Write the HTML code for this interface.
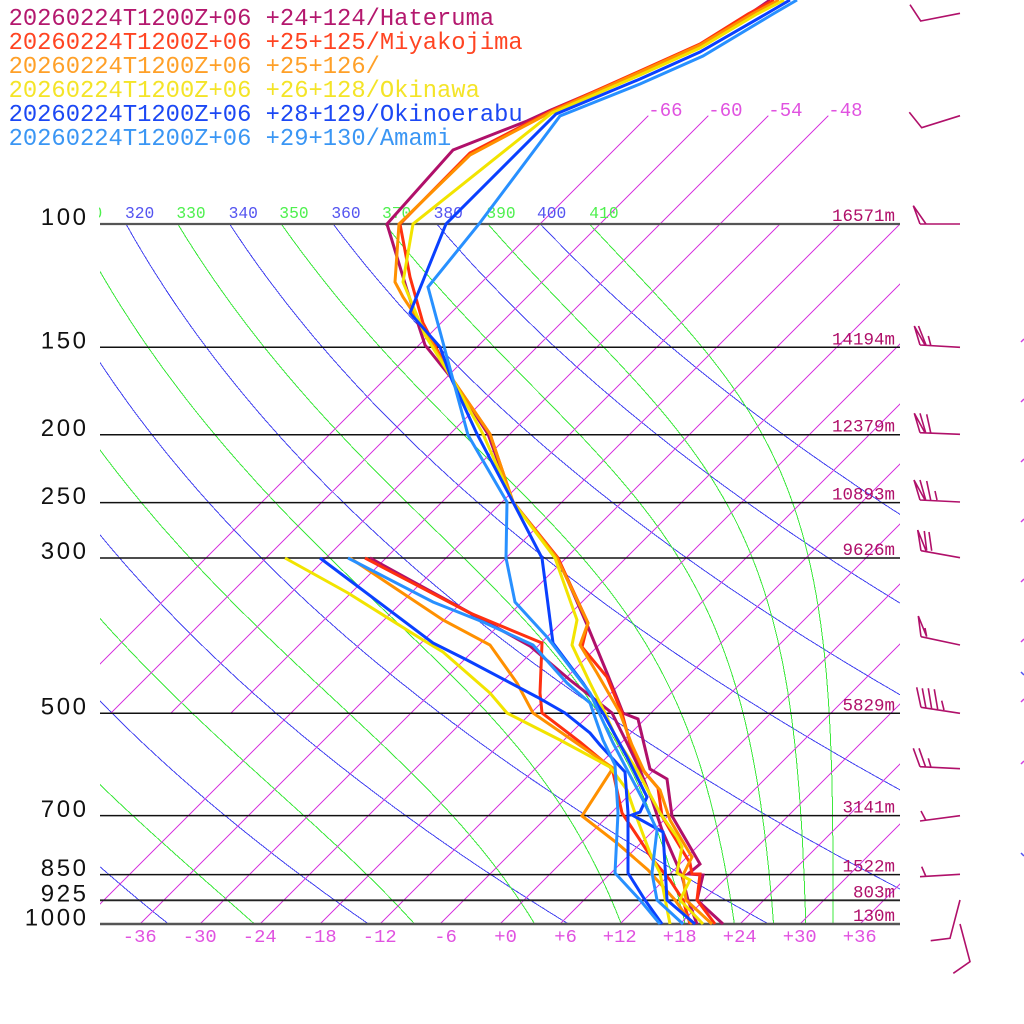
<!DOCTYPE html>
<html>
<head>
<meta charset="utf-8">
<style>
html,body{margin:0;padding:0;background:#fff;}
svg{display:block;}
.mono{font-family:"Liberation Mono","DejaVu Sans Mono",monospace;}
.sans{font-family:"Liberation Sans","DejaVu Sans",sans-serif;}
</style>
</head>
<body>
<svg id="s" xmlns="http://www.w3.org/2000/svg" width="1024" height="1024" viewBox="0 0 1024 1024">
<defs>
<clipPath id="pc"><rect x="100" y="224" width="800" height="700"/></clipPath>
<clipPath id="pc2"><rect x="100" y="0" width="800" height="924"/></clipPath>
<clipPath id="lc"><rect x="99" y="180" width="820" height="50"/></clipPath>
</defs>
<rect width="1024" height="1024" fill="#fff"/>
<g id="grid" clip-path="url(#pc)" shape-rendering="crispEdges"></g>
<g id="grid2" clip-path="url(#pc2)" shape-rendering="crispEdges"></g>

<!-- isobars -->
<g fill="none">
<line x1="100" y1="224" x2="900" y2="224" stroke="#555" stroke-width="2.2"/>
<line x1="100" y1="347.3" x2="900" y2="347.3" stroke="#111" stroke-width="1.5"/>
<line x1="100" y1="434.7" x2="900" y2="434.7" stroke="#111" stroke-width="1.5"/>
<line x1="100" y1="502.6" x2="900" y2="502.6" stroke="#111" stroke-width="1.5"/>
<line x1="100" y1="558" x2="900" y2="558" stroke="#111" stroke-width="1.5"/>
<line x1="100" y1="713.3" x2="900" y2="713.3" stroke="#111" stroke-width="1.5"/>
<line x1="100" y1="815.6" x2="900" y2="815.6" stroke="#111" stroke-width="1.5"/>
<line x1="100" y1="874.6" x2="900" y2="874.6" stroke="#111" stroke-width="1.5"/>
<line x1="100" y1="900.3" x2="900" y2="900.3" stroke="#222" stroke-width="1.8"/>
<line x1="100" y1="924" x2="900" y2="924" stroke="#555" stroke-width="2.4"/>
</g>

<!-- theta labels -->
<g class="mono" font-size="16.3" clip-path="url(#lc)">
<text x="73" y="218" fill="#4ef04e">310</text>
<text x="125" y="218" fill="#5454f0">320</text>
<text x="176.4" y="218" fill="#4ef04e">330</text>
<text x="228.6" y="218" fill="#5454f0">340</text>
<text x="279.3" y="218" fill="#4ef04e">350</text>
<text x="331.4" y="218" fill="#5454f0">360</text>
<text x="382" y="218" fill="#4ef04e">370</text>
<text x="433.6" y="218" fill="#5454f0">380</text>
<text x="486.4" y="218" fill="#4ef04e">390</text>
<text x="537" y="218" fill="#5454f0">400</text>
<text x="589.3" y="218" fill="#4ef04e">410</text>
</g>

<!-- top isotherm labels -->
<g class="mono" font-size="19" fill="#e052e0">
<text x="648.3" y="116">-66</text>
<text x="708.3" y="116">-60</text>
<text x="768.3" y="116">-54</text>
<text x="828.3" y="116">-48</text>
</g>

<!-- bottom temperature labels -->
<g class="mono" font-size="18.8" fill="#e052e0">
<text x="122.8" y="942">-36</text>
<text x="182.8" y="942">-30</text>
<text x="242.8" y="942">-24</text>
<text x="302.8" y="942">-18</text>
<text x="362.8" y="942">-12</text>
<text x="434.3" y="942">-6</text>
<text x="494.3" y="942">+0</text>
<text x="554.3" y="942">+6</text>
<text x="602.8" y="942">+12</text>
<text x="662.8" y="942">+18</text>
<text x="722.8" y="942">+24</text>
<text x="782.8" y="942">+30</text>
<text x="842.8" y="942">+36</text>
</g>

<!-- pressure labels -->
<g class="sans" font-size="24" fill="#111" letter-spacing="2.6" text-anchor="end">
<text x="88.6" y="225">100</text>
<text x="88.6" y="348.5">150</text>
<text x="88.6" y="436">200</text>
<text x="88.6" y="504">250</text>
<text x="88.6" y="559">300</text>
<text x="88.6" y="714.5">500</text>
<text x="88.6" y="817">700</text>
<text x="88.6" y="876">850</text>
<text x="88.6" y="901.5">925</text>
<text x="88.6" y="925.5">1000</text>
</g>

<!-- height labels -->
<g class="mono" font-size="17.5" fill="#b0106a" text-anchor="end">
<text x="895" y="221">16571m</text>
<text x="895" y="344.3">14194m</text>
<text x="895" y="431.7">12379m</text>
<text x="895" y="499.6">10893m</text>
<text x="895" y="555">9626m</text>
<text x="895" y="710.3">5829m</text>
<text x="895" y="812.6">3141m</text>
<text x="895" y="871.6">1522m</text>
<text x="895" y="897.3">803m</text>
<text x="895" y="921">130m</text>
</g>

<!-- soundings -->
<g fill="none" stroke-width="3" stroke-linejoin="miter" stroke-miterlimit="3">
<polyline stroke="#b0106a" points="770,0 745,17 700,45 640,72 551,110 527,121 453,150 387,224 407,290 425,345 453,380 488,434 513,502 558,558 588,627 607,673 623,713 638,719 650,769 667,779 672,816 700,864 688,874 703,875 697,900 723,924"/>
<polyline stroke="#b0106a" points="370,558 483,620 530,646 570,680 612,713 628,745 640,770 652,800 662,830 675,860 682,876 688,900 697,924"/>
<polyline stroke="#ff3010" points="774,0 748,14 700,44 640,71 553,110 470,153 400,224 410,277 423,323 453,380 490,434 513,502 558,558 588,623 582,647 607,677 622,713 630,743 643,770 658,788 662,816 670,830 690,863 692,874 700,874 697,900 715,924"/>
<polyline stroke="#ff3010" points="365,558 470,613 542,643 540,693 542,713 580,742 610,767 613,772 622,813 638,837 653,860 670,880 683,900 690,924"/>
<polyline stroke="#ff9000" points="779,0 752,14 700,45 640,72 553,111 470,155 399,224 395,282 403,297 423,327 453,380 490,434 513,502 557,558 588,623 580,645 597,673 620,713 632,745 645,773 660,790 670,820 680,837 692,857 683,875 686,900 712,924"/>
<polyline stroke="#ff9000" points="350,558 443,620 490,645 517,683 533,713 575,742 613,768 582,816 617,843 648,870 675,900 692,924"/>
<polyline stroke="#f2e400" points="784,0 757,14 700,48 640,75 552,113 413,224 403,282 425,335 453,380 483,434 513,502 555,558 577,620 572,645 590,683 605,713 617,740 637,770 660,813 677,837 682,847 677,873 690,880 680,900 703,924"/>
<polyline stroke="#f2e400" points="285,558 348,593 423,640 443,652 490,693 507,713 560,740 610,767 627,790 635,813 650,853 660,873 670,924"/>
<polyline stroke="#0a40ff" points="790,0 766,14 700,52 640,79 556,114 446,224 410,313 440,347 452,380 477,434 513,502 542,558 553,643 583,683 603,713 627,757 647,797 640,812 632,815 663,832 667,900 695,924"/>
<polyline stroke="#0a40ff" points="320,558 433,643 467,660 537,697 565,713 590,733 600,745 625,772 628,813 628,873 645,900 662,924"/>
<polyline stroke="#2890ff" points="797,0 773,14 703,56 640,84 560,116 479,224 428,287 445,350 468,435 507,502 506,558 515,602 547,637 590,693 613,743 643,800 657,830 652,873 657,900 683,924"/>
<polyline stroke="#2890ff" points="348,558 433,602 483,622 533,645 567,683 590,703 603,740 615,765 618,813 615,873 640,900 660,924"/>
</g>

<!-- legend -->
<g class="mono" font-size="23.8">
<text x="8.6" y="25" fill="#b4186e">20260224T1200Z+06 +24+124/Hateruma</text>
<text x="8.6" y="49" fill="#ff4422">20260224T1200Z+06 +25+125/Miyakojima</text>
<text x="8.6" y="73" fill="#ffa028">20260224T1200Z+06 +25+126/</text>
<text x="8.6" y="97" fill="#f4e428">20260224T1200Z+06 +26+128/Okinawa</text>
<text x="8.6" y="121" fill="#1c48f4">20260224T1200Z+06 +28+129/Okinoerabu</text>
<text x="8.6" y="145" fill="#3a96f4">20260224T1200Z+06 +29+130/Amami</text>
</g>

<!-- wind barbs -->
<g fill="none" stroke="#b0106a" stroke-width="1.6">
<path d="M960,13.3 L920.7,21 L910,4.7"/>
<path d="M960,115.7 L921.7,127.7 L909.3,112.3"/>
<path d="M960,224 L920,224 M920,224 L913.3,205.7 L926,224"/>
<path d="M960,347.3 L920,345 M920,345 L914.3,326 L925,345 M918.5,326 L926,345 M928.3,336 L930.7,345"/>
<path d="M960,434.3 L920,432.7 M920,432.7 L914.3,413.3 L925,432.7 M920,413.3 L925.7,432.7 M926.7,414.3 L930.7,432.7"/>
<path d="M960,502 L920,500 M920,500 L914,480 L925,500 M920,480 L925.7,500 M926.7,481 L930.7,500 M935,491 L937,500"/>
<path d="M960,557.7 L921,550.7 M921,550.7 L917.7,530 L926,550.7 M924.3,531 L926.7,550.7 M929,532 L931.7,550.7"/>
<path d="M960,645 L921,636.7 M921,636.7 L918.3,616 L926.7,636.7 M925,628 L926.7,636.7"/>
<path d="M960,713.3 L921,707.3 M916.7,687.3 L921,707.3 M922.3,688.3 L926,708.3 M928.3,688.3 L931.7,709 M934.3,689.3 L937.7,709.3 M941.7,700.7 L944,710"/>
<path d="M960,768.7 L920,766.7 M913.3,748.3 L920,766.7 M919,748.3 L925.7,767.3 M928.3,758.3 L931,767.3"/>
<path d="M960,815.7 L920,821 M925.7,820 L921,811"/>
<path d="M960,874.3 L920,876.7 M925.7,876 L921.7,866.7"/>
<path d="M960,900 L950,938.3 L930.7,940.7"/>
<path d="M960,924 L970,961.7 L953.3,973.3"/>
</g>

<!-- tiny right-edge marks -->
<g stroke-width="1.5" fill="none">
<path stroke="#d040e0" d="M1021,342 L1024,339 M1021,402 L1024,399 M1021,462 L1024,459 M1021,522 L1024,519 M1021,582 L1024,579 M1021,642 L1024,639 M1021,702 L1024,699 M1021,764 L1024,761"/>
<path stroke="#5050f0" d="M1021,672 L1024,675 M1021,853 L1024,856"/>
</g>

<script>
(function(){
var NS="http://www.w3.org/2000/svg";
function Y(p){return 924-304*Math.log(1000/p);}
function X(T,p){return 500+10*T+304*Math.log(1000/p);}
var g=document.getElementById('grid'), g2=document.getElementById('grid2');
function pl(par,pts,col,w){
  var e=document.createElementNS(NS,'polyline');
  e.setAttribute('points',pts.map(function(a){return a[0].toFixed(1)+','+a[1].toFixed(1);}).join(' '));
  e.setAttribute('fill','none');e.setAttribute('stroke',col);e.setAttribute('stroke-width',w);
  par.appendChild(e);
}
var p,T,i,pts;
/* dry adiabats */
for(var th=240;th<=400;th+=20){
  pts=[];
  for(p=100;p<=1000;p+=5){T=th*Math.pow(p/1000,0.2857)-273.15;pts.push([X(T,p),Y(p)]);}
  pl(g,pts,'#4646f0',1);
}
/* moist adiabats */
function es(Tk){var c=Tk-273.15;return 6.112*Math.exp(17.67*c/(c+243.5));}
function te(Tk,pp){var e=es(Tk);if(e>0.5*pp)return 1e9;var r=0.622*e/(pp-e);
  return Tk*Math.pow(1000/pp,0.2857)*Math.exp(2.67e6*r/(1004*Tk));}
for(var L=230;L<=410;L+=20){
  pts=[];
  for(p=100;p<=1000;p+=5){
    var lo=150,hi=330;
    for(i=0;i<40;i++){var m=(lo+hi)/2;if(te(m,p)>L)hi=m;else lo=m;}
    T=(lo+hi)/2-273.15;pts.push([X(T,p),Y(p)]);
  }
  pl(g,pts,'#3ce83c',1);
}
/* isotherms */
for(T=-42;T<=36;T+=6){pl(g,[[X(T,1000),924],[X(T,100),224]],'#d83ce0',1);}
for(T=-66;T<=-48;T+=6){pl(g2,[[X(T,500),Y(500)],[X(T,70),Y(70)]],'#d83ce0',1);}
})();
</script>
</svg>
</body>
</html>
